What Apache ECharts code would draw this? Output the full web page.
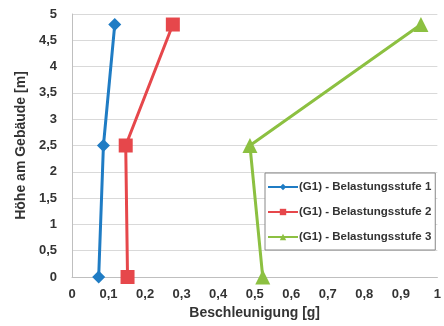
<!DOCTYPE html>
<html><head><meta charset="utf-8">
<script src="https://cdn.jsdelivr.net/npm/echarts@6/dist/echarts.min.js"></script>
<style>html,body{margin:0;padding:0;background:#fff}#c{width:444px;height:326px}</style>
</head><body><div id="c"></div>
<script>
var heights = [0, 2.5, 4.8];
var stufe1 = [0.073, 0.086, 0.117];
var stufe2 = [0.152, 0.147, 0.276];
var stufe3 = [0.522, 0.487, 0.955];
var names = ['(G1) - Belastungsstufe 1', '(G1) - Belastungsstufe 2', '(G1) - Belastungsstufe 3'];
var xTicks = ['0','0,1','0,2','0,3','0,4','0,5','0,6','0,7','0,8','0,9','1'];

function pts(xs){ return xs.map(function(x,i){ return [x, heights[i]]; }); }
var fmt = function(v){ return String(Math.round(v*10)/10).replace('.', ','); };
var font = 'Liberation Sans, Arial, sans-serif';
var chart = echarts.init(document.getElementById('c'));
chart.setOption({
  animation:false,
  grid:{left:72, right:6, top:14, bottom:49},
  xAxis:{type:'value', min:0, max:1, interval:0.1,
    name:'Beschleunigung [g]', nameLocation:'middle', nameGap:29,
    nameTextStyle:{fontFamily:font, fontWeight:'bold', fontSize:14, color:'#333'},
    axisLine:{show:true, lineStyle:{color:'#bfbfbf'}}, axisTick:{show:false},
    splitLine:{show:false},
    axisLabel:{fontFamily:font, fontWeight:'bold', fontSize:13, color:'#333', margin:11,
      formatter:function(v){ return xTicks[Math.round(v*10)]; }}},
  yAxis:{type:'value', min:0, max:5, interval:0.5,
    name:'Höhe am Gebäude [m]', nameLocation:'middle', nameGap:43,
    nameTextStyle:{fontFamily:font, fontWeight:'bold', fontSize:14, color:'#333'},
    axisLine:{show:true, lineStyle:{color:'#bfbfbf'}}, axisTick:{show:false},
    splitLine:{show:true, lineStyle:{color:'#d9d9d9', width:1}},
    axisLabel:{fontFamily:font, fontWeight:'bold', fontSize:13, color:'#333', margin:15, formatter:fmt}},
  legend:{orient:'vertical', left:265, top:173, width:168,
    backgroundColor:'#fff', borderColor:'#888', borderWidth:1, padding:[8,4,7,2],
    itemGap:13, itemWidth:30, itemHeight:8,
    textStyle:{fontFamily:font, fontWeight:'bold', fontSize:11.5, color:'#333', padding:[0,0,0,-4]},
    data:names},
  series:[
    {name:names[0], type:'line', data:pts(stufe1), symbol:'diamond', symbolSize:13,
      lineStyle:{width:3, color:'#1f7cc4'}, itemStyle:{color:'#1f7cc4'}},
    {name:names[1], type:'line', data:pts(stufe2), symbol:'rect', symbolSize:14,
      lineStyle:{width:3, color:'#e6474b'}, itemStyle:{color:'#e6474b'}},
    {name:names[2], type:'line', data:pts(stufe3), symbol:'triangle', symbolSize:15,
      lineStyle:{width:3, color:'#8cc041'}, itemStyle:{color:'#8cc041'}}
  ]
});
</script></body></html>
